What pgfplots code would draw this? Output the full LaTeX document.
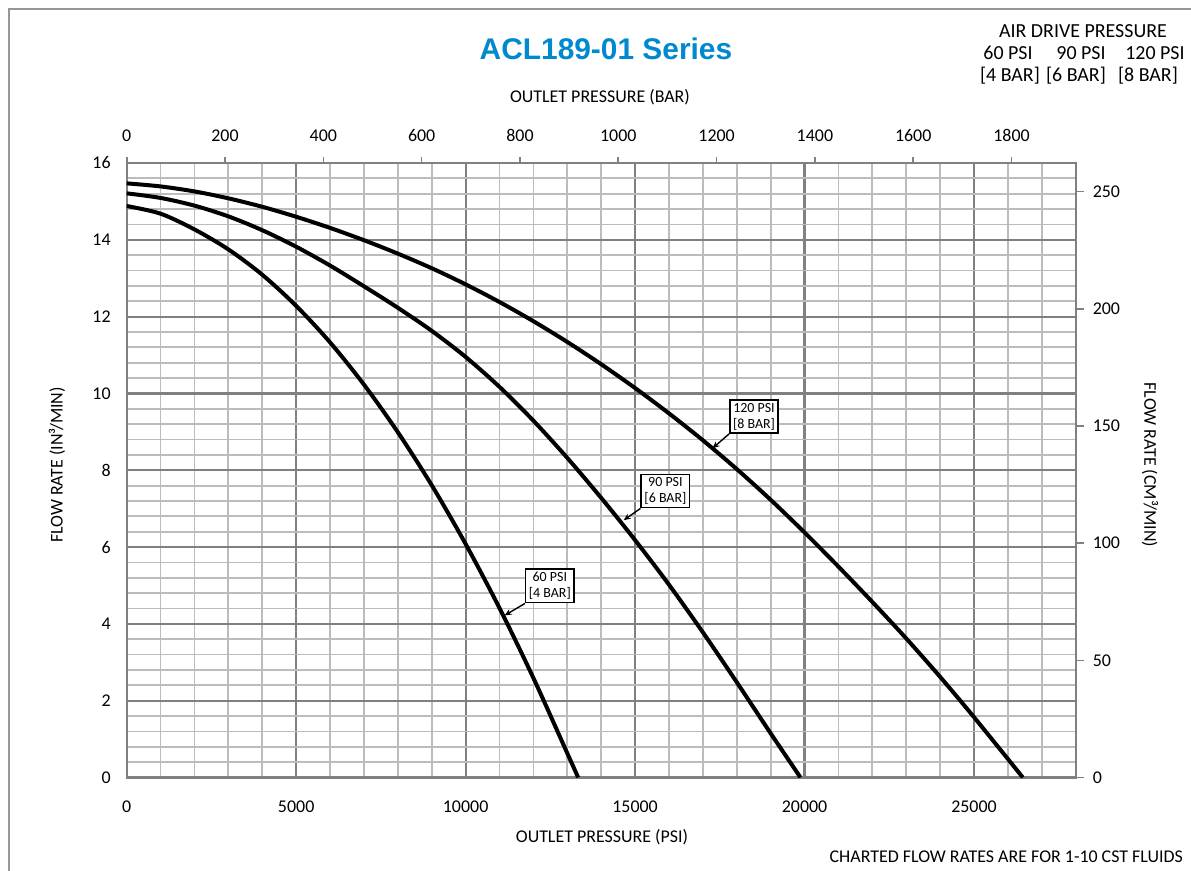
\documentclass[border=0pt]{standalone}
\usepackage{fontspec}
\setmainfont{Carlito}
\newfontfamily\titlefont{Liberation Sans}
\usepackage{pgfplots}
\pgfplotsset{compat=1.18}
\usetikzlibrary{arrows.meta}

\definecolor{titleblue}{RGB}{0,137,207}
\definecolor{gridminor}{RGB}{188,188,188}
\definecolor{gridmajor}{RGB}{128,128,128}
\definecolor{framegray}{RGB}{150,150,150}

\tikzset{
  lbl/.style={draw=black, line width=0.8bp, fill=white, inner sep=1.6bp,
    align=center, font=\fontsize{7}{8}\selectfont},
  arr/.style={-{Stealth[length=3.5bp,width=3bp]}, line width=0.7bp},
  curve/.style={black, line width=2bp, smooth},
}

\begin{document}
\begin{tikzpicture}
\path[use as bounding box] (0,0) rectangle (595.5bp,435.5bp);

\pgfplotsset{
  base/.style={
    scale only axis, width=474.5bp, height=307.25bp,
    at={(63.35bp,46.75bp)}, anchor=south west,
    /pgf/number format/assume math mode=true,
    /pgf/number format/1000 sep={},
    scaled ticks=false,
    ticklabel style={font=\fontsize{9}{10}\selectfont},
    axis line style={gridmajor, line width=1bp},
    tick style={gridmajor, line width=0.8bp},
  },
}

% main axis: psi vs in^3/min
\begin{axis}[base,
  xmin=0, xmax=28000, ymin=0, ymax=16,
  xtick={0,5000,...,25000}, minor xtick={0,1000,...,28000},
  ytick={0,2,...,16}, minor ytick={0,0.4,...,16},
  grid=both,
  major grid style={gridmajor, line width=1.1bp},
  minor grid style={gridminor, line width=0.9bp},
  major tick length=0, minor tick length=0,
  xticklabel style={yshift=-8bp},
  yticklabel style={xshift=-4.5bp},
]
% 60 PSI [4 BAR]
\addplot[curve] coordinates {
  (0,14.88) (1000,14.68) (2000,14.27) (3000,13.75) (4000,13.09) (5000,12.28)
  (6000,11.33) (7000,10.23) (8000,8.99) (9000,7.61) (10000,6.08)
  (11000,4.41) (12000,2.59) (13000,0.63) (13320,0)
};
% 90 PSI [6 BAR]
\addplot[curve] coordinates {
  (0,15.21) (1000,15.09) (2000,14.89) (3000,14.61) (4000,14.25) (5000,13.82)
  (6000,13.33) (7000,12.79) (8000,12.23) (9000,11.63) (10000,10.95)
  (11000,10.17) (12000,9.29) (13000,8.32) (14000,7.28) (15000,6.18)
  (16000,5.02) (17000,3.78) (18000,2.48) (19000,1.15) (19880,0)
};
% 120 PSI [8 BAR]
\addplot[curve] coordinates {
  (0,15.47) (1000,15.39) (2000,15.26) (3000,15.08) (4000,14.86) (5000,14.60)
  (6000,14.31) (7000,13.99) (8000,13.64) (9000,13.26) (10000,12.84)
  (11000,12.38) (12000,11.88) (13000,11.34) (14000,10.76) (15000,10.14)
  (16000,9.48) (17000,8.78) (18000,8.03) (19000,7.23) (20000,6.38)
  (21000,5.49) (22000,4.57) (23000,3.62) (24000,2.62) (25000,1.57) (26440,0)
};
\node[lbl] (b60) at (axis cs:12484,4.99) {60 PSI\\{[4 BAR]}};
\node[lbl] (b90) at (axis cs:15895,7.46) {90 PSI\\{[6 BAR]}};
\node[lbl] (b120) at (axis cs:18508,9.40) {120 PSI\\{[8 BAR]}};
\draw[arr] (b60.south west) -- (axis cs:11150,4.22);
\draw[arr] (b90.south west) -- (axis cs:14664,6.70);
\draw[arr] (b120.south west) -- (axis cs:17283,8.57);
\end{axis}

% right axis: cm^3/min
\begin{axis}[base,
  xmin=0, xmax=28000, ymin=0, ymax=262.193,
  axis y line*=right, axis x line=none,
  ytick={0,50,...,250}, tick align=outside, major tick length=4bp,
  yticklabel style={xshift=1bp},
]
\addplot[draw=none] coordinates {(0,0)};
\end{axis}

% top axis: bar
\begin{axis}[base,
  xmin=0, xmax=1930.54, ymin=0, ymax=16,
  axis x line*=top, axis y line=none,
  xtick={0,200,...,1800}, tick align=outside, major tick length=3bp,
  xticklabel style={yshift=4bp},
]
\addplot[draw=none] coordinates {(0,0)};
\end{axis}

\begin{scope}[x=0.5bp, y=-0.5bp, shift={(0bp,435.5bp)}]
\draw[framegray, line width=1.2bp] (9,871) -- (9,9) -- (1191,9);
\node[font=\titlefont\bfseries\fontsize{15}{18}\selectfont, text=titleblue] at (606,49) {ACL189-01 Series};
\begin{scope}[every node/.style={font=\fontsize{10}{12}\selectfont}]
\node at (1083,31) {AIR DRIVE PRESSURE};
\node at (1008,53) {60 PSI};
\node at (1081,53) {90 PSI};
\node at (1155,53) {120 PSI};
\node at (1010,76) {[4 BAR]};
\node at (1076,76) {[6 BAR]};
\node at (1148,76) {[8 BAR]};
\end{scope}
\begin{scope}[every node/.style={font=\fontsize{9}{11}\selectfont}]
\node at (600,97) {OUTLET PRESSURE (BAR)};
\node at (602,837) {OUTLET PRESSURE (PSI)};
\node[anchor=east] at (1190,857) {CHARTED FLOW RATES ARE FOR 1-10 CST FLUIDS};
\node[rotate=90] at (57,465) {FLOW RATE (IN³/MIN)};
\node[rotate=-90] at (1150,465) {FLOW RATE (CM³/MIN)};
\end{scope}
\end{scope}
\end{tikzpicture}
\end{document}
